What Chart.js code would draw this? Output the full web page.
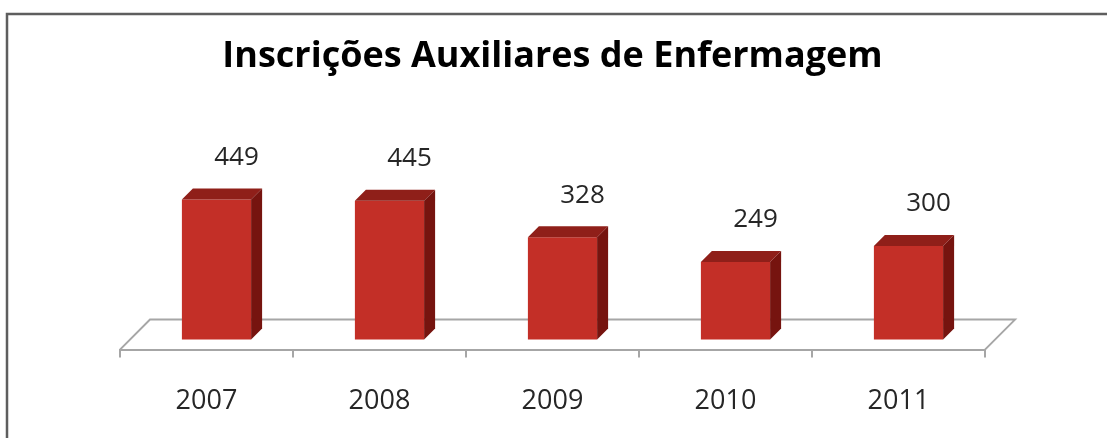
<!DOCTYPE html>
<html>
<head>
<meta charset="utf-8">
<script src="https://cdn.jsdelivr.net/npm/chart.js@4.4.1/dist/chart.umd.min.js"></script>
<style>
    body { margin: 0; background: #fff; }
    #wrap { width: 1107px; height: 438px; position: relative; }
</style>
</head>
<body>
<div id="wrap"><canvas id="InscChart"></canvas></div>
<script>
const years = ['2007', '2008', '2009', '2010', '2011'];
const registrations = [449, 445, 328, 249, 300];

// 3D look, in pixels
const shift = 10;   // bar sits a bit back on the floor
const depth = 11;   // bar depth
const floorDepth = 30;

const frontColor = '#c32f27';
const topColor = '#8f1f19';
const sideColor = '#76140f';
const floorColor = '#a6a6a6';

const framePlugin = {
    id: 'frame',
    beforeDraw(chart) {
        const ctx = chart.ctx;
        ctx.save();
        ctx.strokeStyle = '#5e5e5e';
        ctx.lineWidth = 2.5;
        ctx.beginPath();
        ctx.moveTo(7, chart.height);
        ctx.lineTo(7, 14);
        ctx.lineTo(chart.width, 14);
        ctx.stroke();
        ctx.restore();
    }
};

const floorPlugin = {
    id: 'floor',
    beforeDatasetsDraw(chart) {
        const ctx = chart.ctx;
        const a = chart.chartArea;
        ctx.save();
        ctx.strokeStyle = floorColor;
        ctx.lineWidth = 2;
        ctx.beginPath();
        ctx.moveTo(a.left, a.bottom);
        ctx.lineTo(a.left + floorDepth, a.bottom - floorDepth);
        ctx.lineTo(a.right + floorDepth, a.bottom - floorDepth);
        ctx.lineTo(a.right, a.bottom);
        ctx.stroke();
        ctx.restore();
        // move the bars back onto the floor
        ctx.save();
        ctx.translate(shift, -shift);
    },
    afterDatasetsDraw(chart) {
        const ctx = chart.ctx;
        const meta = chart.getDatasetMeta(0);
        meta.data.forEach(bar => {
            const l = bar.x - bar.width / 2;
            const r = bar.x + bar.width / 2;
            const t = bar.y;
            const b = bar.base;
            ctx.fillStyle = topColor;
            ctx.beginPath();
            ctx.moveTo(l, t);
            ctx.lineTo(l + depth, t - depth);
            ctx.lineTo(r + depth, t - depth);
            ctx.lineTo(r, t);
            ctx.closePath();
            ctx.fill();
            ctx.fillStyle = sideColor;
            ctx.beginPath();
            ctx.moveTo(r, t);
            ctx.lineTo(r + depth, t - depth);
            ctx.lineTo(r + depth, b - depth);
            ctx.lineTo(r, b);
            ctx.closePath();
            ctx.fill();
        });
        ctx.restore();

        // value labels
        ctx.save();
        ctx.font = '26px "Open Sans"';
        ctx.fillStyle = '#262626';
        ctx.textAlign = 'center';
        ctx.textBaseline = 'middle';
        meta.data.forEach((bar, i) => {
            ctx.fillText(String(registrations[i]), bar.x + 30, bar.y - shift - 42);
        });
        ctx.restore();
    }
};

const dataInsc = {
    labels: years,
    datasets: [{
        label: 'Inscrições',
        data: registrations,
        backgroundColor: frontColor,
        borderWidth: 0,
        categoryPercentage: 1,
        barPercentage: 0.4,
        clip: false,
    }]
};

const configInsc = {
    type: 'bar',
    data: dataInsc,
    options: {
        responsive: true,
        maintainAspectRatio: false,
        animation: false,
        layout: {
            padding: { left: 120, right: 122, top: 0, bottom: -8 }
        },
        plugins: {
            legend: { display: false },
            tooltip: { enabled: false },
            title: {
                display: true,
                text: 'Inscrições Auxiliares de Enfermagem',
                color: '#000',
                font: { family: 'Open Sans', weight: 'bold', size: 36 },
                padding: { top: 35, bottom: 53 },
            },
        },
        scales: {
            y: {
                display: false,
                min: 0,
                max: 700,
            },
            x: {
                grid: {
                    display: true,
                    offset: true,
                    drawOnChartArea: false,
                    tickLength: 8,
                    color: floorColor,
                    lineWidth: 2,
                },
                border: { display: true, color: floorColor, width: 2 },
                ticks: {
                    color: '#262626',
                    padding: 28,
                    font: { family: 'Open Sans', size: 27 },
                },
            },
        },
    },
    plugins: [framePlugin, floorPlugin],
};

const InscChart = new Chart(document.getElementById('InscChart'), configInsc);
</script>
</body>
</html>
